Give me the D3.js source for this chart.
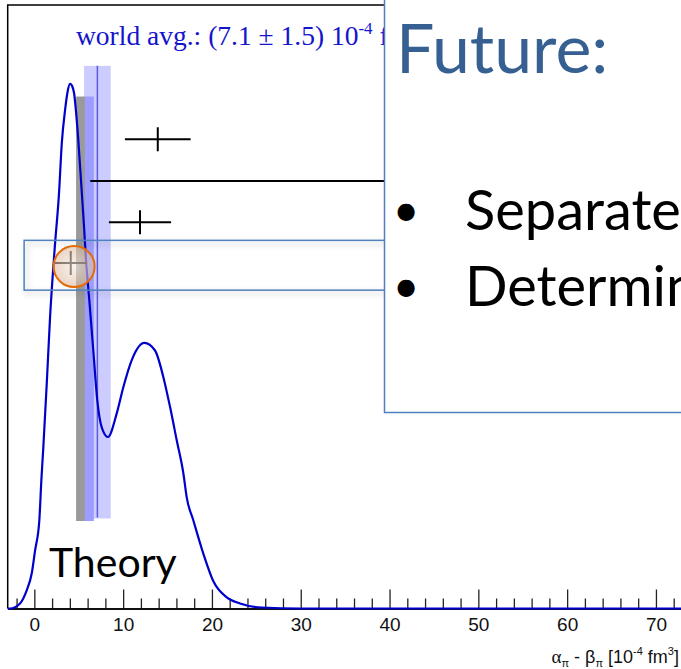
<!DOCTYPE html>
<html>
<head>
<meta charset="utf-8">
<script src="https://cdn.jsdelivr.net/npm/d3@7"></script>
<style>
    body { margin: 0; background: #fff; }
    svg { display: block; }
</style>
</head>
<body>
<div id="chart"></div>
<script>
// Curve: x = alpha_pi - beta_pi [1e-4 fm^3], y = density (arb. units)
const curveX = [-3, -2.74, -1.61, -0.86, -0.29, 0.08, 0.56, 0.79, 1.01, 1.40, 1.77, 2.30, 2.78, 3.09, 3.46, 3.74, 4.02,
    4.30, 4.47, 4.84, 5.23, 5.60, 5.82, 6.19, 6.64, 7.09, 7.59, 8.28, 9.28, 10.02, 10.97, 12.39, 13.59, 14.53,
    15.28, 16.04, 16.78, 17.16, 17.91, 19.03, 20.16, 21.67, 23.16, 25.6, 30, 40, 50, 60, 70, 76];
const curveY = [0, 0, 0.010, 0.036, 0.070, 0.115, 0.175, 0.255, 0.320, 0.448, 0.579, 0.718, 0.826, 0.925, 0.991, 1.027, 1.043,
    1.037, 1.025, 0.957, 0.858, 0.758, 0.693, 0.613, 0.513, 0.414, 0.360, 0.341, 0.388, 0.440, 0.494, 0.528, 0.513, 0.460,
    0.401, 0.334, 0.269, 0.221, 0.175, 0.109, 0.054, 0.022, 0.010, 0.002, 0, 0, 0, 0, 0, 0];

// Measurements (horizontal error bars); the second one runs on under the text box
const measCenter = [13.9, 45, 11.9, 4.1];
const measLow = [10.2, 6.3, 8.4, 2.3];
const measHigh = [17.6, 84, 15.4, 5.9];
const measLevel = [0.933, 0.850, 0.768, 0.687];

// Bands: world average and theory
const worldAvg = 7.1, worldErr = 1.5;
const theoryLow = [4.7, 5.7];
const theoryHigh = [5.7, 6.7];
const theoryColors = ["#9a9a9a", "#9d9dff"];

const majorTicks = [0, 10, 20, 30, 40, 50, 60, 70];
const minorTicks = d3.range(-2, 76, 2).filter(d => d % 10 !== 0);

const W = 681, H = 669;
const boxLeft = 384.5;

const svg = d3.select("#chart").append("svg")
    .attr("width", W)
    .attr("height", H);

const defs = svg.append("defs");
const shadow = defs.append("filter").attr("id", "shadow")
    .attr("x", "-10%").attr("y", "-40%").attr("width", "130%").attr("height", "200%");
shadow.append("feDropShadow")
    .attr("dx", 2).attr("dy", 3).attr("stdDeviation", 3)
    .attr("flood-color", "#000").attr("flood-opacity", 0.25);

const grad = defs.append("radialGradient").attr("id", "circ");
grad.append("stop").attr("offset", "0%").attr("stop-color", "#f6ebe3");
grad.append("stop").attr("offset", "100%").attr("stop-color", "#dcb89e");

defs.append("clipPath").attr("id", "view")
    .append("rect").attr("x", 0).attr("y", 0).attr("width", W).attr("height", H);
defs.append("clipPath").attr("id", "plotLeft")
    .append("rect").attr("x", 0).attr("y", 0).attr("width", boxLeft).attr("height", H);

// Scales
const x = d3.scaleLinear().domain([-3, 75]).range([7.7, 7.7 + 78 * 8.88]);
const y = d3.scaleLinear().domain([0, 1.2]).range([608.5, 5]);

// Frame (left + top)
svg.append("path")
    .attr("d", `M${x(-3)},${y(0)} V${y(1.2)} H${W}`)
    .attr("fill", "none")
    .attr("stroke", "#000")
    .attr("stroke-width", 1.5);

// Bands
svg.append("rect")
    .attr("x", x(worldAvg - worldErr))
    .attr("width", x(worldAvg + worldErr) - x(worldAvg - worldErr))
    .attr("y", y(1.079))
    .attr("height", y(0.179) - y(1.079))
    .attr("fill", "#ccccff");

theoryLow.forEach((lo, i) => {
    svg.append("rect")
        .attr("x", x(lo))
        .attr("width", x(theoryHigh[i]) - x(lo))
        .attr("y", y(1.018))
        .attr("height", y(0.174) - y(1.018))
        .attr("fill", theoryColors[i]);
});

svg.append("line")
    .attr("x1", x(worldAvg)).attr("x2", x(worldAvg))
    .attr("y1", y(1.079)).attr("y2", y(0.181))
    .attr("stroke", "#5c5cdc")
    .attr("stroke-width", 1.5);

// Axis
const axisG = svg.append("g").attr("transform", `translate(0,${y(0)})`);
axisG.call(d3.axisBottom(x).tickValues(minorTicks).tickSizeInner(-10).tickSizeOuter(0).tickFormat(""));
const majorG = svg.append("g").attr("transform", `translate(0,${y(0)})`);
majorG.call(d3.axisBottom(x).tickValues(majorTicks).tickSizeInner(-19).tickSizeOuter(0).tickPadding(9.5));
[axisG, majorG].forEach(g => {
    g.select(".domain").attr("stroke", "#000").attr("stroke-width", 1.5);
    g.selectAll(".tick line").attr("stroke", "#222").attr("stroke-width", 1.3);
});
majorG.selectAll(".tick text")
    .attr("fill", "#111")
    .style("font-family", "'Liberation Sans', Arial, sans-serif")
    .style("font-size", "19px");

// Axis title
const xt = svg.append("text")
    .attr("x", 679).attr("y", 663)
    .attr("text-anchor", "end")
    .attr("fill", "#111")
    .style("font-family", "'Liberation Sans', Arial, sans-serif")
    .style("font-size", "18px");
xt.append("tspan").style("font-family", "'Liberation Serif', serif").style("font-size", "19px").text("α");
xt.append("tspan").attr("dy", 4).style("font-size", "11px").text("π");
xt.append("tspan").attr("dy", -4).text(" - β");
xt.append("tspan").attr("dy", 4).style("font-size", "11px").text("π");
xt.append("tspan").attr("dy", -4).text(" [10");
xt.append("tspan").attr("dy", -8).style("font-size", "11px").text("-4");
xt.append("tspan").attr("dy", 8).text(" fm");
xt.append("tspan").attr("dy", -8).style("font-size", "11px").text("3");
xt.append("tspan").attr("dy", 8).text("]");

// Curve
const curveData = curveX.map((d, i) => [d, curveY[i]]);
svg.append("path")
    .datum(curveData)
    .attr("d", d3.line().x(d => x(d[0])).y(d => y(d[1])).curve(d3.curveMonotoneX))
    .attr("fill", "none")
    .attr("stroke", "#0000cc")
    .attr("stroke-width", 2.2);

// Measurements (left of the text box)
const meas = svg.append("g").attr("clip-path", "url(#plotLeft)");
measCenter.forEach((c, i) => {
    const g = meas.append("g").attr("stroke", "#000").attr("stroke-width", 2);
    g.append("line")
        .attr("x1", x(measLow[i])).attr("x2", x(measHigh[i]))
        .attr("y1", y(measLevel[i])).attr("y2", y(measLevel[i]));
    g.append("line")
        .attr("x1", x(c)).attr("x2", x(c))
        .attr("y1", y(measLevel[i]) - 12).attr("y2", y(measLevel[i]) + 12);
});

// Highlighted row and circle
svg.append("rect")
    .attr("x", x(-1.15))
    .attr("y", y(0.732))
    .attr("width", boxLeft - x(-1.15) + 10)
    .attr("height", y(0.633) - y(0.732))
    .attr("fill", "none")
    .attr("stroke", "#4f81bd")
    .attr("stroke-width", 1.5)
    .attr("filter", "url(#shadow)");

svg.append("circle")
    .attr("cx", x(4.48))
    .attr("cy", y(0.68))
    .attr("r", 20.5)
    .attr("fill", "url(#circ)")
    .attr("fill-opacity", 0.6)
    .attr("stroke", "#e36c09")
    .attr("stroke-width", 2);

// Theory label
svg.append("text")
    .attr("x", 49).attr("y", 577)
    .attr("fill", "#000")
    .style("font-family", "Lato, 'Open Sans', sans-serif")
    .style("font-size", "41px")
    .text("Theory");

// World average label (runs on under the text box)
const wa = svg.append("text")
    .attr("clip-path", "url(#plotLeft)")
    .attr("x", 76).attr("y", 45)
    .attr("fill", "#1414cc")
    .style("font-family", "'Liberation Serif', 'Times New Roman', serif")
    .style("font-size", "27.5px");
wa.append("tspan").text("world avg.: (7.1 ± 1.5) 10");
wa.append("tspan").attr("dy", -11).style("font-size", "17px").text("-4");
wa.append("tspan").attr("dy", 11).text(" fm");
wa.append("tspan").attr("dy", -11).style("font-size", "17px").text("3");

// Overlay text box
const box = svg.append("g").attr("clip-path", "url(#view)");
box.append("rect")
    .attr("x", boxLeft).attr("y", -5)
    .attr("width", 320).attr("height", 417.5)
    .attr("fill", "#fff")
    .attr("stroke", "#4f81bd")
    .attr("stroke-width", 1.5);
box.append("text")
    .attr("x", 396).attr("y", 73)
    .attr("fill", "#376092")
    .style("font-family", "Lato, 'Open Sans', sans-serif")
    .style("font-size", "68px")
    .text("Future:");
const bullets = ["Separate", "Determine"];
bullets.forEach((b, i) => {
    box.append("text")
        .attr("x", 406).attr("y", 226 + i * 76)
        .attr("text-anchor", "middle")
        .attr("fill", "#000")
        .style("font-family", "Lato, 'Open Sans', sans-serif")
        .style("font-size", "46px")
        .text("•");
    box.append("text")
        .attr("x", 465).attr("y", 230 + i * 76)
        .attr("fill", "#000")
        .style("font-family", "Lato, 'Open Sans', sans-serif")
        .style("font-size", "56px")
        .text(b);
});
</script>
</body>
</html>
